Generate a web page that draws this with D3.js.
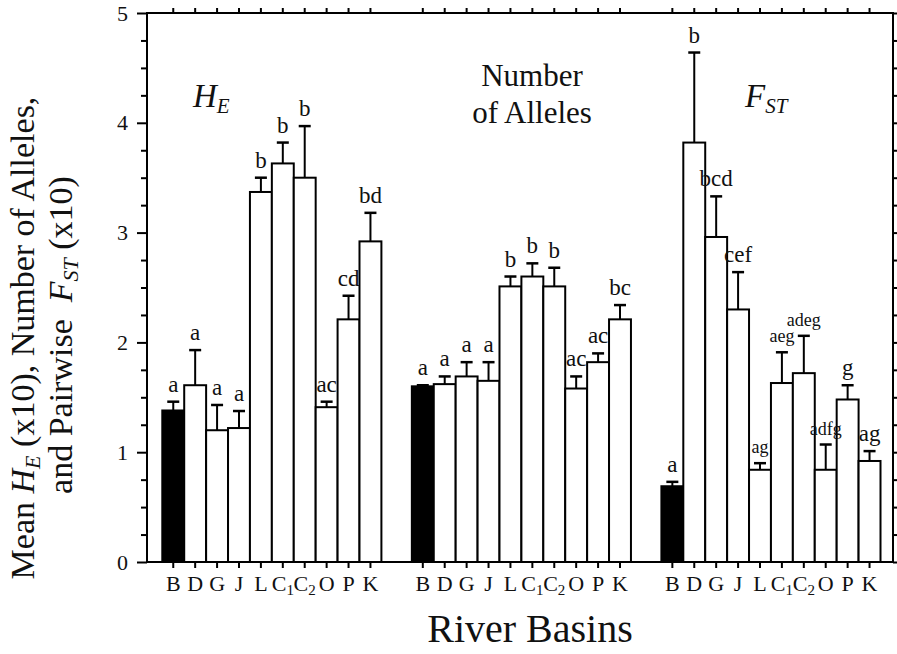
<!DOCTYPE html>
<html><head><meta charset="utf-8">
<script src="https://cdn.jsdelivr.net/npm/d3@7/dist/d3.min.js"></script>
<style>
body{margin:0;background:#fff;}
text{font-family:"Liberation Serif","Times New Roman",serif;fill:#111;}
</style>
</head><body>
<svg id="chart" width="897" height="654"></svg>
<script>
// ---------------- data ----------------
const categories = ["B","D","G","J","L","C1","C2","O","P","K"];
const categoryMain = ["B","D","G","J","L","C","C","O","P","K"];
const categorySub  = ["","","","","","1","2","","",""];
const groups = ["HE","Alleles","FST"];

const heMeans   = [1.38,1.61,1.20,1.22,3.37,3.63,3.50,1.41,2.21,2.92];
const heSE      = [0.08,0.32,0.23,0.155,0.13,0.19,0.47,0.05,0.215,0.26];
const heLetters = ["a","a","a","a","b","b","b","ac","cd","bd"];

const alMeans   = [1.60,1.62,1.69,1.65,2.51,2.60,2.51,1.58,1.82,2.21];
const alSE      = [0.01,0.07,0.13,0.17,0.09,0.12,0.17,0.11,0.08,0.13];
const alLetters = ["a","a","a","a","b","b","b","ac","ac","bc"];

const fstMeans   = [0.69,3.82,2.96,2.30,0.84,1.63,1.72,0.84,1.48,0.92];
const fstSE      = [0.04,0.82,0.37,0.34,0.06,0.28,0.34,0.23,0.13,0.09];
const fstLetters = ["a","b","bcd","cef","ag","aeg","adeg","adfg","g","ag"];

const yTickValues = [0,1,2,3,4,5];

// ---------------- build ----------------
const seriesData = [
  {group:"HE", means:heMeans, se:heSE, letters:heLetters},
  {group:"Alleles", means:alMeans, se:alSE, letters:alLetters},
  {group:"FST", means:fstMeans, se:fstSE, letters:fstLetters}
];
const smallLetterSet = new Set(["FST|L","FST|C1","FST|C2","FST|O"]);

const rows = [];
seriesData.forEach(s => categories.forEach((c,i) => rows.push({
  group:s.group, cat:c, i, mean:s.means[i], se:s.se[i], letter:s.letters[i]
})));

const svg = d3.select("#chart");
const L = 147, R = 893, T = 13, B = 562;

const x0 = d3.scaleBand().domain(groups).range([162.3, 880.5]).paddingInner(0.122).paddingOuter(0);
const x1 = d3.scaleBand().domain(categories).range([0, x0.bandwidth()]).padding(0);
const y = d3.scaleLinear().domain([0,5]).range([B, T]);
const cx = d => x0(d.group) + x1(d.cat) + x1.bandwidth()/2;

const minor = d3.range(0, 5.001, 0.25).filter(v => Math.abs(v - Math.round(v)) > 1e-6);

const axStyle = g => { g.selectAll(".domain").remove(); g.selectAll("line").attr("stroke","#000").attr("stroke-width",2); };

svg.append("g").attr("transform",`translate(${L},0)`)
  .call(d3.axisLeft(y).tickValues(yTickValues).tickSize(10).tickPadding(9).tickFormat(d3.format("d")))
  .call(axStyle)
  .call(g => g.selectAll("text").attr("font-size",22).attr("font-family","Liberation Serif").attr("fill","#111"));
svg.append("g").attr("transform",`translate(${L},0)`)
  .call(d3.axisLeft(y).tickValues(minor).tickSize(6).tickFormat(""))
  .call(axStyle);
svg.append("g").attr("transform",`translate(${R},0)`)
  .call(d3.axisRight(y).tickValues(yTickValues).tickSize(7).tickFormat(""))
  .call(axStyle);
svg.append("g").attr("transform",`translate(${R},0)`)
  .call(d3.axisRight(y).tickValues(minor).tickSize(5).tickFormat(""))
  .call(axStyle);

// top & bottom ticks at bar centres
svg.append("g").selectAll("line").data(rows).join("line")
  .attr("x1",cx).attr("x2",cx).attr("y1",B).attr("y2",B+6)
  .attr("stroke","#000").attr("stroke-width",2);
svg.append("g").selectAll("line").data(rows).join("line")
  .attr("x1",cx).attr("x2",cx).attr("y1",T).attr("y2",T-5)
  .attr("stroke","#000").attr("stroke-width",2);

// bars
svg.append("g").selectAll("rect").data(rows).join("rect")
  .attr("x", d => x0(d.group) + x1(d.cat))
  .attr("y", d => y(d.mean))
  .attr("width", x1.bandwidth())
  .attr("height", d => B - y(d.mean))
  .attr("fill", d => d.cat === "B" ? "#000" : "#fff")
  .attr("stroke","#000").attr("stroke-width",2);

// error bars
const eb = svg.append("g");
eb.selectAll("line.v").data(rows).join("line").attr("class","v")
  .attr("x1",cx).attr("x2",cx).attr("y1",d=>y(d.mean)).attr("y2",d=>y(d.mean+d.se))
  .attr("stroke","#000").attr("stroke-width",2);
eb.selectAll("line.c").data(rows).join("line").attr("class","c")
  .attr("x1",d=>cx(d)-6).attr("x2",d=>cx(d)+6).attr("y1",d=>y(d.mean+d.se)).attr("y2",d=>y(d.mean+d.se))
  .attr("stroke","#000").attr("stroke-width",2.5);

// letters
svg.append("g").selectAll("text").data(rows).join("text")
  .attr("x",cx)
  .attr("y",d=>y(d.mean+d.se)-10)
  .attr("text-anchor","middle")
  .attr("font-size",d=> smallLetterSet.has(d.group+"|"+d.cat) ? 18 : 23)
  .text(d=>d.letter);

// frame
svg.append("rect").attr("x",L).attr("y",T).attr("width",R-L).attr("height",B-T)
  .attr("fill","none").attr("stroke","#000").attr("stroke-width",2);

// category labels
const cl = svg.append("g").selectAll("text").data(rows).join("text")
  .attr("x",cx).attr("y",591).attr("text-anchor","middle").attr("font-size",22);
cl.append("tspan").text(d=>categoryMain[d.i]);
cl.filter(d=>categorySub[d.i]!=="").append("tspan").attr("font-size",15).attr("dy",4).text(d=>categorySub[d.i]);

// panel titles
const he = svg.append("text").attr("x",193).attr("y",107).attr("font-size",33).attr("font-style","italic");
he.append("tspan").text("H");
he.append("tspan").attr("font-size",21).attr("dy",6).text("E");

svg.append("text").attr("x",532).attr("y",86).attr("text-anchor","middle").attr("font-size",31).text("Number");
svg.append("text").attr("x",532).attr("y",123).attr("text-anchor","middle").attr("font-size",31).text("of Alleles");

const fst = svg.append("text").attr("x",745).attr("y",107).attr("font-size",33).attr("font-style","italic");
fst.append("tspan").text("F");
fst.append("tspan").attr("font-size",21).attr("dy",6).text("ST");

// axis titles
svg.append("text").attr("x",530).attr("y",642).attr("text-anchor","middle").attr("font-size",40).text("River Basins");

const yt1 = svg.append("text").attr("transform","translate(34,338) rotate(-90)").attr("text-anchor","middle").attr("font-size",34);
yt1.append("tspan").text("Mean ");
yt1.append("tspan").attr("font-style","italic").text("H");
yt1.append("tspan").attr("font-style","italic").attr("font-size",22).attr("dy",6).text("E");
yt1.append("tspan").attr("dy",-6).text(" (x10), Number of Alleles,");

const yt2 = svg.append("text").attr("transform","translate(72,335) rotate(-90)").attr("text-anchor","middle").attr("font-size",34);
yt2.append("tspan").text("and Pairwise\u00a0\u00a0");
yt2.append("tspan").attr("font-style","italic").text("F");
yt2.append("tspan").attr("font-style","italic").attr("font-size",22).attr("dy",6).text("ST");
yt2.append("tspan").attr("dy",-6).text(" (x10)");
</script>
</body></html>
